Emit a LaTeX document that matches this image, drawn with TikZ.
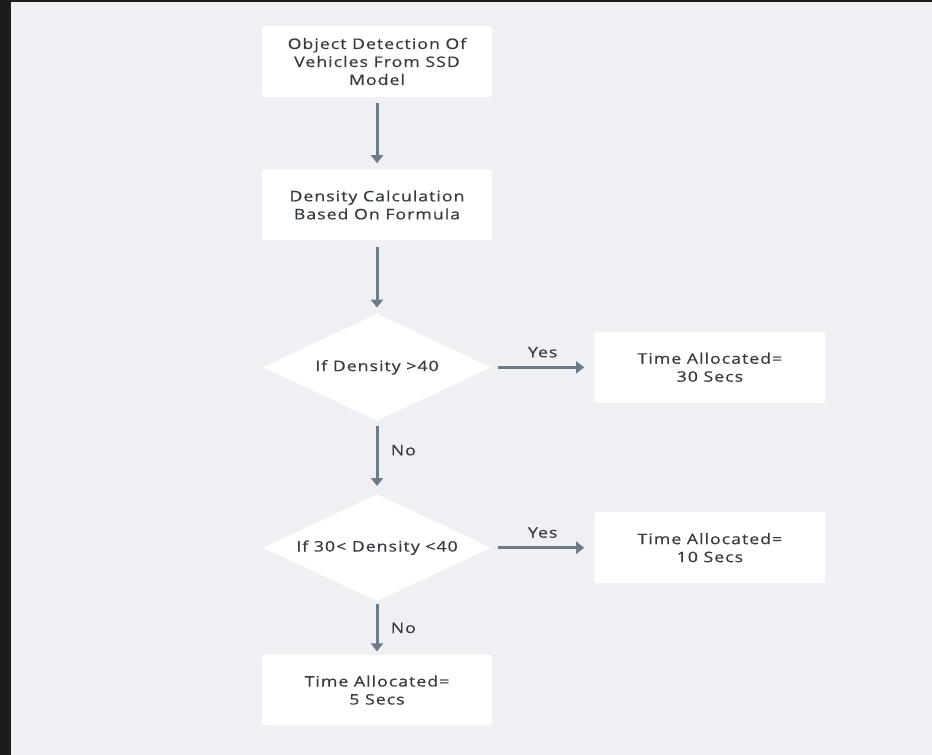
\documentclass[tikz,border=0pt]{standalone}
\usepackage{fontspec}
\setmainfont[FakeStretch=1.22,LetterSpace=7,FakeBold=0.5]{Open Sans}
\usetikzlibrary{positioning,shapes.geometric,arrows.meta}
\definecolor{panelbg}{HTML}{EFF0F4}
\definecolor{framebg}{HTML}{1C1C1C}
\definecolor{flowline}{HTML}{6D7A88}
\definecolor{flowtext}{HTML}{363B41}
\tikzset{
  procbox/.style={rectangle,rounded corners=3pt,fill=white,text=flowtext,
    minimum width=230pt,minimum height=71pt,align=center,
    font=\fontsize{14.5}{18}\selectfont},
  decide/.style={diamond,aspect=2.13,fill=white,text=flowtext,
    minimum width=228pt,minimum height=107pt,inner sep=0pt,
    font=\fontsize{14.5}{18}\selectfont},
  flow/.style={draw=flowline,line width=3pt,
    -{Triangle[width=12pt,length=8pt]},shorten <=6pt,shorten >=6pt},
  lbl/.style={text=flowtext,font=\fontsize{14.5}{18}\selectfont}
}
\begin{document}
\begin{tikzpicture}[x=1pt,y=1pt]
	% frame and panel
	\fill[framebg] (0,0) rectangle (932,-755);
	\fill[panelbg] (11,-2) rectangle (932,-755);
	\useasboundingbox (0,0) rectangle (932,-755);
	% main column
	\node[procbox] (detect) at (377,-61.5) {Object Detection Of\\Vehicles From SSD\\Model};
	\node[procbox,below=72pt of detect] (density) {Density Calculation\\Based On Formula};
	\node[decide,below=73pt of density] (first) {If Density >40};
	\node[decide,below=73pt of first] (second) {If 30< Density <40};
	\node[procbox,below=53pt of second] (short) {Time Allocated=\\5 Secs};
	% outcomes
	\node[procbox,right=103pt of first,minimum width=231pt] (long) {Time Allocated=\\30 Secs};
	\node[procbox,right=103pt of second,minimum width=231pt] (mid) {Time Allocated=\\10 Secs};
	% connectors
	\draw[flow] (detect) -- (density);
	\draw[flow] (density) -- (first);
	\draw[flow,shorten <=7pt,shorten >=10pt] (first) -- node[lbl,above=5pt] {Yes} (long);
	\draw[flow,shorten <=5pt,shorten >=8pt] (first) -- node[lbl,right=9pt,pos=0.4] {No} (second);
	\draw[flow,shorten <=7pt,shorten >=10pt] (second) -- node[lbl,above=5pt] {Yes} (mid);
	\draw[flow,shorten <=3pt,shorten >=3pt] (second) -- node[lbl,right=9pt] {No} (short);
\end{tikzpicture}
\end{document}
